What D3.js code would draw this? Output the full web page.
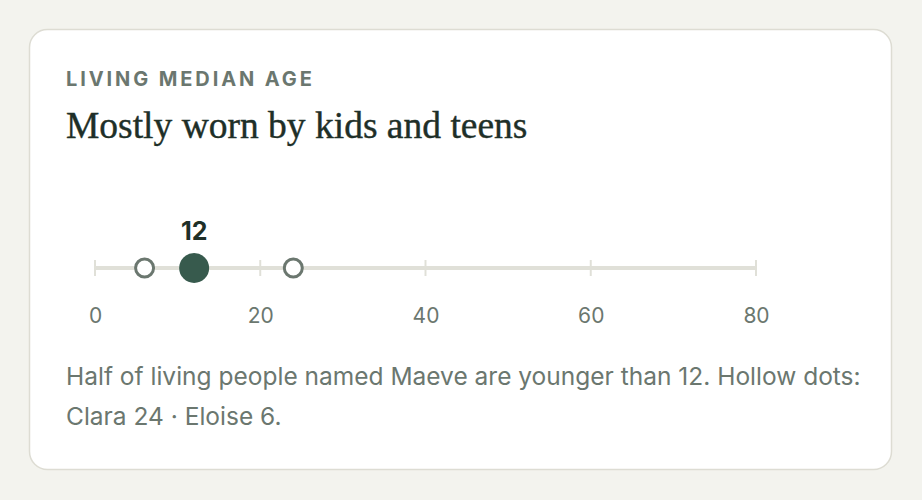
<!DOCTYPE html>
<html>
<head>
<meta charset="utf-8">
<script src="https://d3js.org/d3.v7.min.js"></script>
<style>
  html, body { margin: 0; padding: 0; background: #f3f3ee; }
  svg { display: block; }
</style>
</head>
<body>
<svg id="chart"></svg>
<script>

// values
var names = ["Maeve", "Clara", "Eloise"];
var medianAges = [12, 24, 6];
var tickValues = [0, 20, 40, 60, 80];
var kicker = "LIVING MEDIAN AGE";
var title = "Mostly worn by kids and teens";
var captionLines = [
  "Half of living people named Maeve are younger than 12. Hollow dots:",
  "Clara 24 \u00b7 Eloise 6."
];

var W = 922, H = 500;
var svg = d3.select("#chart").attr("width", W).attr("height", H);

var ink = "#1e2f28", muted = "#6b776f", rail = "#e0e0d8", accent = "#375a4d";
var sans = "Inter, 'Noto Sans', sans-serif";

// card
svg.append("rect")
    .attr("x", 29.5).attr("y", 29.5)
    .attr("width", 862).attr("height", 440)
    .attr("rx", 18)
    .attr("fill", "#fff")
    .attr("stroke", "#dddcd3")
    .attr("stroke-width", 1.5);

svg.append("text")
    .attr("x", 66).attr("y", 85.5)
    .attr("font-family", sans)
    .attr("font-weight", 700)
    .attr("font-size", 20)
    .attr("letter-spacing", 2.9)
    .attr("fill", muted)
    .text(kicker);

svg.append("text")
    .attr("x", 66).attr("y", 138)
    .attr("font-family", "'Liberation Serif', 'DejaVu Serif', serif")
    .attr("font-size", 37.5)
    .attr("fill", ink)
    .attr("stroke", ink)
    .attr("stroke-width", 0.4)
    .text(title);

// scale
var x = d3.scaleLinear().domain([0, 80]).range([95, 756]);
var axisY = 268;

var g = svg.append("g").attr("transform", "translate(0," + axisY + ")");

g.append("line")
    .attr("x1", x(0)).attr("x2", x(80))
    .attr("stroke", rail)
    .attr("stroke-width", 4);

var axis = d3.axisBottom(x)
    .tickValues(tickValues)
    .tickSize(0)
    .tickPadding(40);

var ax = g.append("g").call(axis);
ax.select(".domain").remove();
ax.selectAll("text")
    .attr("font-family", sans)
    .attr("font-size", 21)
    .attr("fill", muted);

g.selectAll(".tickmark")
    .data(tickValues)
  .enter().append("line")
    .attr("class", "tickmark")
    .attr("x1", function(d) { return x(d); })
    .attr("x2", function(d) { return x(d); })
    .attr("y1", -8).attr("y2", 8)
    .attr("stroke", rail)
    .attr("stroke-width", 2);

// dots: first is the focus name, the rest are comparisons
var dots = names.map(function(n, i) { return { name: n, age: medianAges[i], main: i === 0 }; });

g.selectAll(".dot")
    .data(dots.filter(function(d) { return !d.main; }))
  .enter().append("circle")
    .attr("class", "dot")
    .attr("cx", function(d) { return x(d.age); })
    .attr("cy", 0)
    .attr("r", 9)
    .attr("fill", "#fff")
    .attr("stroke", muted)
    .attr("stroke-width", 3);

var main = dots.filter(function(d) { return d.main; });

g.selectAll(".main")
    .data(main)
  .enter().append("circle")
    .attr("class", "main")
    .attr("cx", function(d) { return x(d.age); })
    .attr("cy", 0)
    .attr("r", 15)
    .attr("fill", accent);

g.selectAll(".mainlabel")
    .data(main)
  .enter().append("text")
    .attr("class", "mainlabel")
    .attr("x", function(d) { return x(d.age); })
    .attr("y", -28)
    .attr("text-anchor", "middle")
    .attr("font-family", sans)
    .attr("font-weight", 700)
    .attr("font-size", 25)
    .attr("fill", ink)
    .text(function(d) { return d.age; });

svg.selectAll(".caption")
    .data(captionLines)
  .enter().append("text")
    .attr("class", "caption")
    .attr("x", 66)
    .attr("y", function(d, i) { return 385 + i * 40; })
    .attr("font-family", sans)
    .attr("font-size", 24.5)
    .attr("fill", muted)
    .text(function(d) { return d; });

</script>
</body>
</html>
